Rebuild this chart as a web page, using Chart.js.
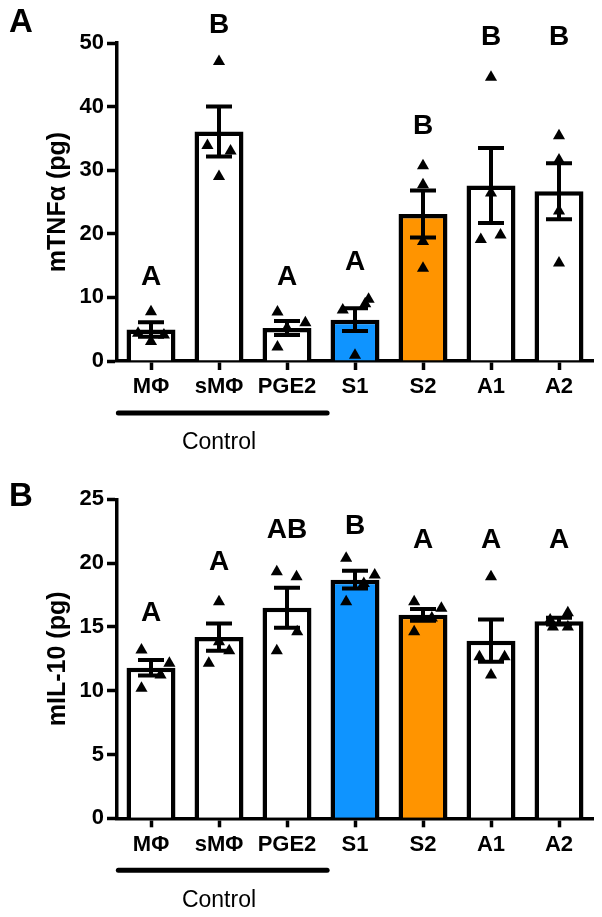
<!DOCTYPE html>
<html>
<head>
<meta charset="utf-8">
<script src="https://cdn.jsdelivr.net/npm/chart.js@4.4.1/dist/chart.umd.min.js"></script>
<style>
  html, body { margin: 0; padding: 0; background: #fff; }
  #wrap { position: relative; width: 602px; height: 917px; }
  canvas { position: absolute; left: 0; }
</style>
</head>
<body>
<div id="wrap">
  <canvas id="chartA" width="602" height="460" style="top:0"></canvas>
  <canvas id="chartB" width="602" height="457" style="top:460px"></canvas>
</div>
<script>
const categories = ['MΦ', 'sMΦ', 'PGE2', 'S1', 'S2', 'A1', 'A2'];
const barColors = ['#ffffff', '#ffffff', '#ffffff', '#0F94FF', '#FF9400', '#ffffff', '#ffffff'];

// panel A - mTNFα (pg)
const tnfMean = [4.95, 36.1, 5.2, 6.5, 23.1, 27.6, 26.7];
const tnfSem = [1.13, 3.93, 1.1, 1.8, 3.7, 5.9, 4.4];
const tnfPoints = [
    [7.75, 4.35, 4.1, 3.05],
    [47.1, 33.9, 33.0, 29.0],
    [7.7, 6.0, 2.2, 5.2],
    [8.0, 9.7, 9.0, 0.9],
    [30.7, 27.7, 18.8, 14.6],
    [44.6, 26.4, 19.1, 19.8],
    [35.4, 31.6, 23.6, 15.4]
];
const tnfJitter = [
    [0, -0.19, 0.19, 0],
    [0, -0.17, 0.17, 0],
    [-0.14, 0.27, -0.14, 0],
    [-0.18, 0.2, 0.15, 0],
    [0, 0, 0, 0],
    [0, 0, -0.15, 0.14],
    [0, 0, 0, 0]
];
const tnfLetters = ['A', 'B', 'A', 'A', 'B', 'B', 'B'];
const tnfLetterAt = [13.2, 52.8, 13.2, 15.6, 36.9, 50.9, 50.9];

// panel B - mIL-10 (pg)
const il10Mean = [11.8, 14.2, 16.5, 18.7, 15.95, 13.92, 15.45];
const il10Sem = [0.6, 1.07, 1.56, 0.7, 0.46, 1.66, 0.26];
const il10Points = [
    [13.19, 12.15, 11.23, 10.19],
    [16.97, 13.14, 12.15, 13.84],
    [19.33, 18.94, 14.62, 13.14],
    [20.38, 19.07, 16.98, 18.4],
    [16.98, 16.46, 15.7, 14.62],
    [18.94, 12.66, 12.66, 11.23],
    [16.11, 15.54, 15.0, 15.0]
];
const il10Jitter = [
    [-0.14, 0.27, 0.14, -0.14],
    [0, 0.15, -0.15, 0],
    [-0.15, 0.14, 0.15, -0.15],
    [-0.13, 0.29, -0.13, 0.13],
    [-0.13, 0.27, 0.13, -0.13],
    [0, -0.17, 0.2, 0],
    [0.13, -0.13, -0.09, 0.13]
];
const il10Letters = ['A', 'A', 'AB', 'B', 'A', 'A', 'A'];
const il10LetterAt = [16.1, 20.1, 22.6, 22.9, 21.8, 21.8, 21.8];

const FONT = 'Liberation Sans, Arial, sans-serif';

const errorBars = {
    id: 'errorBars',
    afterDatasetDraw(chart, args, opts) {
        if (args.index !== 0) return;
        const x = chart.scales.x, y = chart.scales.y;
        const ctx = chart.ctx;
        ctx.save();
        ctx.strokeStyle = '#000';
        ctx.lineWidth = 4;
        opts.mean.forEach((m, i) => {
            const px = x.getPixelForValue(i);
            const top = y.getPixelForValue(m + opts.sem[i]);
            const bot = y.getPixelForValue(m - opts.sem[i]);
            ctx.beginPath();
            ctx.moveTo(px, top); ctx.lineTo(px, bot);
            ctx.moveTo(px - 13, top); ctx.lineTo(px + 13, top);
            ctx.moveTo(px - 13, bot); ctx.lineTo(px + 13, bot);
            ctx.stroke();
        });
        ctx.restore();
    }
};

const extras = {
    id: 'extras',
    afterDraw(chart, args, opts) {
        const x = chart.scales.x, y = chart.scales.y;
        const ctx = chart.ctx;
        const area = chart.chartArea;
        const step = x.getPixelForValue(1) - x.getPixelForValue(0);
        ctx.save();
        ctx.fillStyle = '#000';
        ctx.textAlign = 'center';
        ctx.textBaseline = 'middle';
        ctx.font = 'bold 28px ' + FONT;
        opts.letters.forEach((t, i) => {
            ctx.fillText(t, x.getPixelForValue(i), y.getPixelForValue(opts.letterAt[i]));
        });
        // control bracket
        const ly = area.bottom + 52;
        ctx.strokeStyle = '#000';
        ctx.lineWidth = 5;
        ctx.lineCap = 'round';
        ctx.beginPath();
        ctx.moveTo(x.getPixelForValue(0) - 0.48 * step, ly);
        ctx.lineTo(x.getPixelForValue(2) + 0.59 * step, ly);
        ctx.stroke();
        ctx.font = '23px ' + FONT;
        ctx.fillText('Control', x.getPixelForValue(1), area.bottom + 82);
        // panel letter
        ctx.font = 'bold 33px ' + FONT;
        ctx.fillText(opts.panel, 21, opts.panelY);
        ctx.restore();
    }
};

function makePanel(id, mean, sem, points, jitter, letters, letterAt, yMax, yStep, yTitle, panel, panelY, padTop, padBottom) {
    const scatter = [];
    points.forEach((grp, i) => {
        grp.forEach((v, k) => scatter.push({ x: i + jitter[i][k], y: v }));
    });
    new Chart(document.getElementById(id), {
        type: 'bar',
        data: {
            labels: categories,
            datasets: [{
                data: mean,
                backgroundColor: barColors,
                borderColor: '#000',
                borderWidth: 4.5,
                borderSkipped: 'bottom',
                barPercentage: 0.72,
                categoryPercentage: 1,
                grouped: false,
                order: 2
            }, {
                type: 'scatter',
                data: scatter,
                xAxisID: 'xp',
                pointStyle: 'triangle',
                radius: 7,
                backgroundColor: '#000',
                borderWidth: 0,
                order: 1
            }]
        },
        options: {
            responsive: false,
            animation: false,
            layout: { padding: { left: 30, right: 9, top: padTop, bottom: padBottom } },
            plugins: {
                legend: { display: false },
                tooltip: { enabled: false },
                errorBars: { mean: mean, sem: sem },
                extras: { letters: letters, letterAt: letterAt, panel: panel, panelY: panelY }
            },
            scales: {
                x: {
                    type: 'category',
                    offset: true,
                    afterFit(scale) { scale.height = 45; },
                    grid: { offset: false, drawOnChartArea: false, tickLength: 9, tickWidth: 3.5, color: '#000' },
                    border: { color: '#000', width: 3.5 },
                    ticks: { color: '#000', padding: 4, font: { family: FONT, size: 22, weight: 'bold' } }
                },
                xp: { type: 'linear', display: false, offset: false, min: -0.5, max: 6.5 },
                y: {
                    min: 0,
                    max: yMax,
                    afterFit(scale) { scale.width = 87; },
                    ticks: { stepSize: yStep, color: '#000', padding: 3, font: { family: FONT, size: 22, weight: 'bold' } },
                    grid: { drawOnChartArea: false, tickLength: 10, tickWidth: 3.5, color: '#000' },
                    border: { color: '#000', width: 3.5 },
                    title: {
                        display: true,
                        text: yTitle,
                        color: '#000',
                        padding: { top: 13, bottom: 0 },
                        font: { family: FONT, size: 25, weight: 'bold' }
                    }
                }
            }
        },
        plugins: [errorBars, extras]
    });
}

makePanel('chartA', tnfMean, tnfSem, tnfPoints, tnfJitter, tnfLetters, tnfLetterAt,
    50, 10, 'mTNFα (pg)', 'A', 23, 43, 54);
makePanel('chartB', il10Mean, il10Sem, il10Points, il10Jitter, il10Letters, il10LetterAt,
    25, 5, 'mIL-10 (pg)', 'B', 37, 39.3, 53.7);
</script>
</body>
</html>
